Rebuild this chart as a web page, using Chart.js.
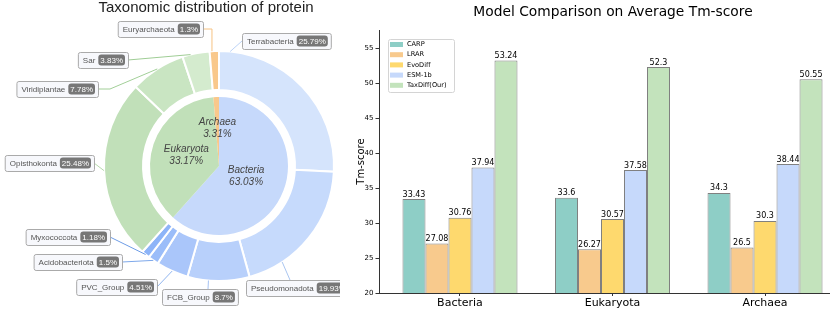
<!DOCTYPE html>
<html>
<head>
<meta charset="utf-8">
<script src="https://cdn.jsdelivr.net/npm/chart.js@4.4.0/dist/chart.umd.min.js"></script>
<style>
  html, body { margin: 0; padding: 0; background: #fff; overflow: hidden; }
  #wrap { position: relative; width: 830px; height: 311px; }
  #pie { position: absolute; left: 0; top: 0; }
  #bars { position: absolute; left: 340px; top: 0; }
</style>
</head>
<body>
<div id="wrap">
  <canvas id="bars" width="490" height="311"></canvas>
  <canvas id="pie" width="340" height="311"></canvas>
</div>
<script>
// ---- left panel: taxonomy (inner = kingdom, outer = group) ----
const kingdoms = ['Bacteria', 'Eukaryota', 'Archaea'];
const kingdomShare = ['63.03%', '33.17%', '3.31%'];   // printed text
const kingdomArc = [61.61, 37.09, 1.3];               // slice size as drawn in the picture
const groups = ['Terrabacteria', 'Pseudomonadota', 'FCB_Group', 'PVC_Group', 'Acidobacteriota',
  'Myxococcota', 'Opisthokonta', 'Viridiplantae', 'Sar', 'Euryarchaeota'];
const groupShare = [25.79, 19.93, 8.7, 4.51, 1.5, 1.18, 25.48, 7.78, 3.83, 1.3];

// ---- right panel: average Tm-score ----
const domains = ['Bacteria', 'Eukaryota', 'Archaea'];
const models = ['CARP', 'LRAR', 'EvoDiff', 'ESM-1b', 'TaxDiff(Our)'];
const carp = [33.43, 33.6, 34.3];
const lrar = [27.08, 26.27, 26.5];
const evodiff = [30.76, 30.57, 30.3];
const esm1b = [37.94, 37.58, 38.44];
const taxdiff = [53.24, 52.3, 50.55];

// styles
const kingdomColors = ['#c6d9fb', '#c1e0b9', '#f9c88b'];
const kingdomLabelR = [0.42, 0.5, 0.55];
const groupColors = ['#d5e4fc', '#c6dafc', '#b8d0fb', '#aac6fa', '#9bbdf9', '#8db4f8',
  '#c1e0b9', '#c9e5c2', '#d4ebce', '#f9c88b'];
const lineColors = ['#bcd3f7', '#a9c5f0', '#a4c1f2', '#8fb4ef', '#7ea8ea', '#6d9ce6',
  '#b5d9ac', '#a2cf98', '#9fcd95', '#f6c282'];
// callout box: [edge x, center y, side the line leaves from, where on the slice, stub]
const calloutPos = [
  [242, 41, 'l', 0.06, 0],
  [246, 288, 't', 0.75, 44],
  [162, 297, 't', 0.66, 46],
  [157, 287, 'r', 0.5, 0],
  [122, 262, 'r', 0.5, 0],
  [110, 237, 'r', 0.5, 0],
  [94, 163, 'r', 0.5, 0],
  [98, 89, 'r', 0.5, 12],
  [128, 60, 'r', 0.3, 0],
  [203, 29, 'r', 0.25, 'x']
];
const barColors = ['#8ecec6', '#f8ca8d', '#fed96e', '#c6d9fb', '#c3e3bc'];
const barSets = [carp, lrar, evodiff, esm1b, taxdiff];

const sans = '"Liberation Sans", Arial, sans-serif';
const dv = '"DejaVu Sans", sans-serif';

function rrect(ctx, x, y, w, h, r) {
  ctx.beginPath();
  if (ctx.roundRect) ctx.roundRect(x, y, w, h, r); else ctx.rect(x, y, w, h);
}

const pieDecor = {
  id: 'pieDecor',
  afterDraw(chart) {
    const ctx = chart.ctx;
    ctx.save();
    ctx.fillStyle = '#222';
    ctx.font = '15px ' + sans;
    ctx.textAlign = 'center';
    ctx.textBaseline = 'alphabetic';
    ctx.fillText('Taxonomic distribution of protein', 206, 12);

    // kingdom labels inside the pie
    ctx.font = 'italic 10px ' + sans;
    ctx.fillStyle = '#444';
    ctx.textBaseline = 'middle';
    chart.getDatasetMeta(2).data.forEach((arc, i) => {
      const mid = (arc.startAngle + arc.endAngle) / 2;
      const r = arc.outerRadius * kingdomLabelR[i];
      const cx = arc.x + Math.cos(mid) * r, cy = arc.y + Math.sin(mid) * r;
      ctx.fillText(kingdoms[i], cx, cy - 6);
      ctx.fillText(kingdomShare[i], cx, cy + 6);
    });

    // group callouts
    chart.getDatasetMeta(0).data.forEach((arc, i) => {
      const [bx, by, side, frac, stub] = calloutPos[i];
      const a = arc.startAngle + frac * (arc.endAngle - arc.startAngle);
      const ax = arc.x + Math.cos(a) * arc.outerRadius;
      const ay = arc.y + Math.sin(a) * arc.outerRadius;
      ctx.font = '8px ' + sans;
      const name = groups[i], pct = groupShare[i] + '%';
      const nw = ctx.measureText(name).width;
      const pw = ctx.measureText(pct).width + 4;
      const w = 5 + nw + 3 + pw + 3, h = 16;
      let left, tx, ty;
      if (side === 'r') { left = bx - w; tx = bx; ty = by; }
      else if (side === 'l') { left = bx; tx = bx; ty = by; }
      else { left = bx; tx = bx + stub; ty = by - h / 2; }

      ctx.strokeStyle = lineColors[i];
      ctx.lineWidth = 1;
      ctx.beginPath();
      ctx.moveTo(tx, ty);
      if (stub === 'x') ctx.lineTo(ax, ty);
      else if (side === 'r' && stub > 0) ctx.lineTo(tx + stub, ty);
      ctx.lineTo(ax, ay);
      ctx.stroke();

      rrect(ctx, left + 0.5, by - h / 2 + 0.5, w, h, 2);
      ctx.fillStyle = '#f7f8fc';
      ctx.fill();
      ctx.strokeStyle = '#aaaaaa';
      ctx.stroke();
      ctx.textAlign = 'left';
      ctx.textBaseline = 'middle';
      ctx.fillStyle = '#555';
      ctx.fillText(name, left + 5, by + 0.5);
      rrect(ctx, left + 5 + nw + 3, by - 5.5, pw, 11, 3);
      ctx.fillStyle = '#777777';
      ctx.fill();
      ctx.fillStyle = '#fff';
      ctx.fillText(pct, left + 5 + nw + 5, by + 0.5);
    });
    ctx.restore();
  }
};

new Chart(document.getElementById('pie'), {
  type: 'doughnut',
  data: {
    labels: groups,
    datasets: [
      { data: groupShare, backgroundColor: groupColors, borderColor: '#fff', borderWidth: 2, hoverBorderWidth: 2, weight: 39 },
      { data: [1], backgroundColor: 'rgba(0,0,0,0)', borderWidth: 0, weight: 7 },
      { data: kingdomArc, backgroundColor: kingdomColors, borderWidth: 0, weight: 69 }
    ]
  },
  options: {
    responsive: false,
    animation: false,
    events: [],
    cutout: 0,
    layout: { padding: { left: 103, right: 5, top: 50, bottom: 29 } },
    plugins: { legend: { display: false }, tooltip: { enabled: false } }
  },
  plugins: [pieDecor]
});

const barDecor = {
  id: 'barDecor',
  afterDraw(chart) {
    const ctx = chart.ctx;
    ctx.save();
    ctx.fillStyle = '#000';
    ctx.font = '8px ' + dv;
    ctx.textAlign = 'center';
    ctx.textBaseline = 'alphabetic';
    chart.data.datasets.forEach((ds, k) => {
      chart.getDatasetMeta(k).data.forEach((bar, i) => {
        ctx.fillText(String(ds.data[i]), bar.x, bar.y - 2.5);
      });
    });
    ctx.font = '13.8px ' + dv;
    ctx.fillText('Model Comparison on Average Tm-score', 273, 16);

    // legend
    rrect(ctx, 48.5, 39.5, 66, 53, 2);
    ctx.fillStyle = 'rgba(255,255,255,0.85)';
    ctx.fill();
    ctx.strokeStyle = '#d4d4d4';
    ctx.lineWidth = 1;
    ctx.stroke();
    ctx.font = '6.6px ' + dv;
    ctx.textAlign = 'left';
    ctx.textBaseline = 'middle';
    models.forEach((m, k) => {
      const yy = 44.5 + k * 10.2;
      ctx.fillStyle = barColors[k];
      ctx.fillRect(50, yy - 2.5, 13, 5);
      ctx.fillStyle = '#000';
      ctx.fillText(m, 67, yy);
    });
    ctx.restore();
  }
};

new Chart(document.getElementById('bars'), {
  type: 'bar',
  data: {
    labels: domains.map((d, i) => i),
    datasets: models.map((m, k) => ({
      label: m,
      data: barSets[k],
      backgroundColor: barColors[k],
      borderColor: '#808080',
      borderWidth: 1,
      categoryPercentage: 0.754,
      barPercentage: 1
    }))
  },
  options: {
    responsive: false,
    animation: false,
    events: [],
    layout: { padding: { top: 30, right: 0, left: 0, bottom: 0 } },
    scales: {
      x: {
        type: 'linear', min: -0.531, max: 2.426, offset: false,
        ticks: { stepSize: 1, includeBounds: false, autoSkip: false, maxRotation: 0,
          callback: v => domains[v], font: { family: dv, size: 11 }, color: '#000', padding: 1 },
        grid: { drawOnChartArea: false, offset: false, tickLength: 3, color: '#333' },
        border: { display: true, color: '#333', width: 1 },
        afterFit: s => { s.height = 18; }
      },
      y: {
        min: 20, max: 57.6,
        ticks: { stepSize: 5, includeBounds: false, font: { family: dv, size: 7 }, color: '#000', padding: 2 },
        grid: { drawOnChartArea: false, tickLength: 3.5, color: '#333' },
        border: { display: true, color: '#333', width: 1 },
        title: { display: true, text: 'Tm-score', font: { family: dv, size: 10 }, color: '#000', padding: { top: 15, bottom: 0 } },
        afterFit: s => { s.width = 39; }
      }
    },
    plugins: { legend: { display: false }, tooltip: { enabled: false } }
  },
  plugins: [barDecor]
});
</script>
</body>
</html>
